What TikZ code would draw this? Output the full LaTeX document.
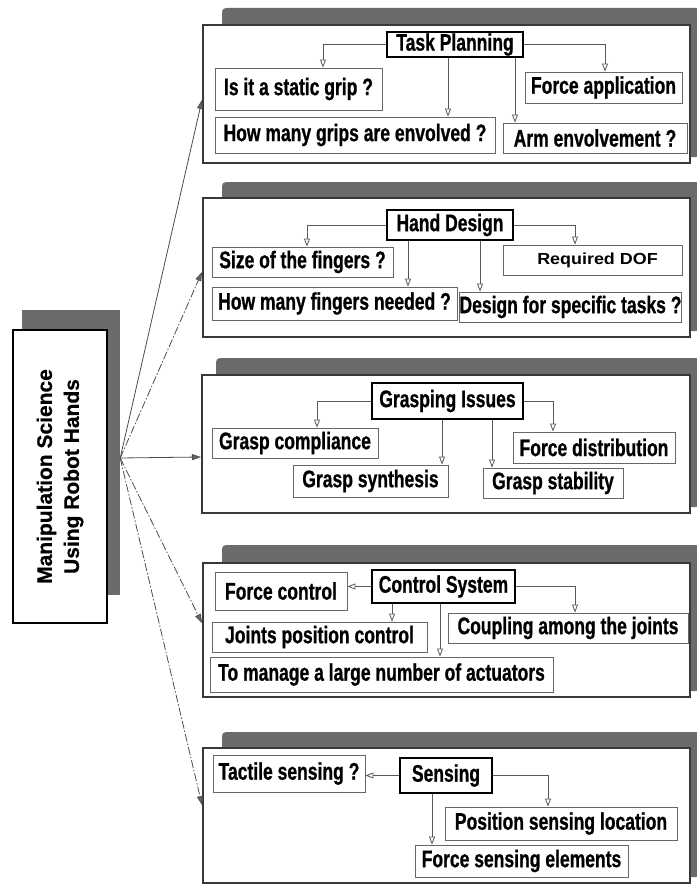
\documentclass[tikz,border=0pt]{standalone}
\usepackage{fontspec}
\setmainfont{Liberation Sans}[FakeBold=0.6]
\newfontfamily\narrowsans{Liberation Sans}[FakeStretch=0.73, FakeBold=0.8]
\newfontfamily\widesans{Liberation Sans}[FakeStretch=1.12]
\usetikzlibrary{arrows.meta,calc}

% vertical connector from a heading box down to the box below it
\newcommand\dropto[3]{%
  \coordinate (t#3) at ($(#1.south)+(#2,0)$);
  \draw[sublink] (t#3) -- (t#3 |- #3.north);}

\begin{document}
\begin{tikzpicture}[x=1pt,y=-1pt,
  backdrop/.style={fill=black!58, draw=none, inner sep=0pt},
  panelbox/.style={draw=black!78, line width=2pt, fill=white, inner sep=0pt},
  headbox/.style={draw=black, line width=2.3pt, fill=white, inner sep=0pt,
    font=\narrowsans\bfseries\fontsize{24}{26}\selectfont},
  subbox/.style={draw=black!60, line width=0.9pt, fill=white, inner sep=0pt,
    font=\narrowsans\bfseries\fontsize{24}{26}\selectfont},
  sublink/.style={draw=black!65, line width=0.8pt, -{Triangle[open,length=8pt,width=6pt]}},
  mainlink/.style={draw=black!70, line width=0.8pt, -{Triangle[length=9pt,width=6pt,fill=black!60]}},
  dashdot/.style={dash pattern=on 8pt off 2pt on 1.5pt off 2pt}
]
\useasboundingbox (0,0) rectangle (696,888);

% ---------- left title box ----------
\node[backdrop, minimum width=98pt, minimum height=285pt] (mainsh) at (71,452.5) {};
\node[draw=black, line width=1.4pt, fill=white, inner sep=0pt, rotate=90,
      minimum width=293pt, minimum height=94pt, align=center,
      font=\bfseries\fontsize{21}{27}\selectfont] (main) at (60,476.5)
      {Manipulation Science\\Using Robot Hands};
\coordinate (hub) at ($(mainsh.east)+(0,5.5)$);

% ---------- panel backdrops and frames ----------
\fill[black!58, rounded corners=4pt] (222,8) rectangle (700,157);
\node[panelbox, minimum width=487pt, minimum height=138pt] (pan1) at (446.5,94) {};
\fill[black!58, rounded corners=4pt] (222,182) rectangle (700,331);
\node[panelbox, minimum width=487pt, minimum height=139pt] (pan2) at (446.5,267.5) {};
\fill[black!58, rounded corners=4pt] (216,358) rectangle (700,507);
\node[panelbox, minimum width=488pt, minimum height=138pt] (pan3) at (446,444) {};
\fill[black!58, rounded corners=4pt] (222,545) rectangle (700,691);
\node[panelbox, minimum width=487pt, minimum height=134pt] (pan4) at (446.5,630) {};
\fill[black!58, rounded corners=4pt] (222,732) rectangle (700,877);
\node[panelbox, minimum width=487pt, minimum height=135pt] (pan5) at (446.5,815.5) {};

% ---------- links from the title box ----------
\draw[mainlink] (hub) -- ($(pan1.west)+(0,6)$);
\draw[mainlink,dashdot] (hub) -- ($(pan2.west)+(0,4.5)$);
\draw[mainlink] (hub) -- ($(pan3.west)+(0,13)$);
\draw[mainlink,dashdot] (hub) -- ($(pan4.west)+(0,-7)$);
\draw[mainlink,dashdot] (hub) -- ($(pan5.west)+(0,-10.5)$);

% ---------- Task Planning ----------
\node[headbox, minimum width=136pt, minimum height=25pt] (tp) at (455,44.5) {Task Planning};
\node[subbox, minimum width=167pt, minimum height=42pt] (p1a) at (298.5,89) {Is it a static grip ?};
\node[subbox, minimum width=280pt, minimum height=36pt] (p1b) at (355,135) {How many grips are envolved ?};
\node[subbox, minimum width=184pt, minimum height=30pt] (p1c) at (595,138) {Arm envolvement ?};
\node[subbox, minimum width=157pt, minimum height=31pt] (p1d) at (603.5,87.5) {Force application};
\draw[sublink] (tp.west) -| ([xshift=24.5pt]p1a.north);
\dropto{tp}{-7}{p1b}
\dropto{tp}{60}{p1c}
\draw[sublink] (tp.east) -| ([xshift=1.5pt]p1d.north);

% ---------- Hand Design ----------
\node[headbox, minimum width=126pt, minimum height=30pt] (hd) at (450,225) {Hand Design};
\node[subbox, minimum width=181pt, minimum height=30pt] (p2a) at (302.5,262) {Size of the fingers ?};
\node[subbox, minimum width=179pt, minimum height=30pt,
      font=\widesans\bfseries\fontsize{16}{18}\selectfont] (p2b) at (592.5,260) {\hspace*{10pt}Required DOF};
\node[subbox, minimum width=245pt, minimum height=33pt] (p2c) at (334.5,303.5) {How many fingers needed ?};
\node[subbox, minimum width=215pt, minimum height=30pt] (p2d) at (570.5,307) {Design for specific tasks ?};
\draw[sublink] (hd.west) -| ([xshift=4.5pt]p2a.north);
\dropto{hd}{-42}{p2c}
\dropto{hd}{30}{p2d}
\draw[sublink] (hd.east) -| ([xshift=-17.5pt]p2b.north);

% ---------- Grasping Issues ----------
\node[headbox, minimum width=151pt, minimum height=36pt] (gi) at (447.5,401) {Grasping Issues};
\node[subbox, minimum width=166pt, minimum height=30pt] (p3a) at (295,443) {Grasp compliance};
\node[subbox, minimum width=155pt, minimum height=32pt] (p3b) at (370.5,481) {Grasp synthesis};
\node[subbox, minimum width=140pt, minimum height=30pt] (p3c) at (553,483) {Grasp stability};
\node[subbox, minimum width=162pt, minimum height=31pt] (p3d) at (594,447.5) {Force distribution};
\draw[sublink] (gi.west) -| ([xshift=22pt]p3a.north);
\dropto{gi}{-5.5}{p3b}
\dropto{gi}{44.5}{p3c}
\draw[sublink] (gi.east) -| ([xshift=-41pt]p3d.north);

% ---------- Control System ----------
\node[headbox, minimum width=143pt, minimum height=33pt] (cs) at (443.5,586.5) {Control System};
\node[subbox, minimum width=132pt, minimum height=38pt] (p4a) at (281,591) {Force control};
\node[subbox, minimum width=215pt, minimum height=30pt] (p4b) at (319.5,637) {Joints position control};
\node[subbox, minimum width=240pt, minimum height=30pt] (p4c) at (568,628) {Coupling among the joints};
\node[subbox, minimum width=343pt, minimum height=35pt] (p4d) at (381.5,674.5) {To manage a large number of actuators};
\draw[sublink] (cs.west) -- (cs.west -| p4a.east);
\dropto{cs}{-51.5}{p4b}
\dropto{cs}{-3.5}{p4d}
\draw[sublink] (cs.east) -| ([xshift=7pt]p4c.north);

% ---------- Sensing ----------
\node[headbox, minimum width=92pt, minimum height=35pt] (se) at (446,775.5) {Sensing};
\node[subbox, minimum width=152pt, minimum height=37pt] (p5a) at (289,773.5) {Tactile sensing ?};
\node[subbox, minimum width=232pt, minimum height=33pt] (p5b) at (561,823.5) {Position sensing location};
\node[subbox, minimum width=213pt, minimum height=32pt] (p5c) at (521.5,861) {Force sensing elements};
\draw[sublink] (se.west) -- (se.west -| p5a.east);
\dropto{se}{-14}{p5c}
\draw[sublink] (se.east) -| ([xshift=-13pt]p5b.north);

\end{tikzpicture}
\end{document}
